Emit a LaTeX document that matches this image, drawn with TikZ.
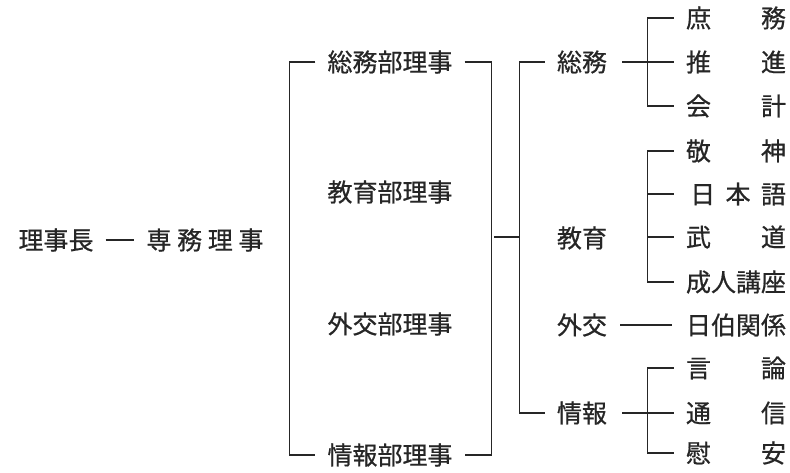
\documentclass[tikz,border=0pt]{standalone}
\usepackage{fontspec}
\newfontfamily\jpfont[FakeBold=0.6]{Noto Sans CJK JP}
\newcommand{\spreadfour}[1]{\makebox[4em][s]{#1}}
\begin{document}
\begin{tikzpicture}[x=1pt,y=-1pt,
  lbl/.style={font=\jpfont\fontsize{25}{26}\selectfont, inner sep=0pt, text=black!85},
  ln/.style={line width=1.2pt, black!85},
  dashln/.style={line width=1.8pt, black!85}]
\useasboundingbox[fill=white] (0,0) rectangle (790,472);

% top level
\node[lbl] (chair) at (56,240) {理事長};
\node[lbl] (senmu) at (205,240) {\makebox[117pt][s]{専\hfil 務\hfil 理\hfil 事}};
\draw[dashln, shorten <=12pt, shorten >=12pt] (chair.east) -- (senmu.west);

% directors
\node[lbl] (d1) at (390,62)  {総務部理事};
\node[lbl] (d2) at (390,192) {教育部理事};
\node[lbl] (d3) at (390,324) {外交部理事};
\node[lbl] (d4) at (390,455) {情報部理事};

% departments
\node[lbl] (b1) at (582,62)  {総務};
\node[lbl] (b2) at (582,238) {教育};
\node[lbl] (b3) at (582,325) {外交};
\node[lbl] (b4) at (582,413) {情報};

% items
\node[lbl] (s1) at (736,18)  {\spreadfour{庶\hfil 務}};
\node[lbl] (s2) at (736,62)  {\spreadfour{推\hfil 進}};
\node[lbl] (s3) at (736,106) {\spreadfour{会\hfil 計}};
\node[lbl] (k1) at (736,151) {\spreadfour{敬\hfil 神}};
\node[lbl] (k2) at (736,194) {\spreadfour{\,日\hfil 本\hfil 語}};
\node[lbl] (k3) at (736,237) {\spreadfour{武\hfil 道}};
\node[lbl] (k4) at (736,282) {\spreadfour{成人講座}};
\node[lbl] (g1) at (736,325) {\spreadfour{日伯関係}};
\node[lbl] (j1) at (736,368) {\spreadfour{言\hfil 論}};
\node[lbl] (j2) at (736,413) {\spreadfour{通\hfil 信}};
\node[lbl] (j3) at (736,453) {\spreadfour{慰\hfil 安}};

% brackets around directors
\draw[ln] ([xshift=-12pt]d1.west) -- ++(-26,0) |- ([xshift=-12pt]d4.west);
\draw[ln] ([xshift=12pt]d1.east) -- ++(27,0) |- ([xshift=12pt]d4.east);

% link to departments
\coordinate (m1) at (494,237);
\coordinate (m2) at (519,237);
\draw[ln] (m1) -- (m2);
\draw[ln] ([xshift=-12pt]b1.west) -- ++(-25,0) |- ([xshift=-12pt]b4.west);

% 総務
\draw[ln] ([xshift=15pt]b1.east) -- ([xshift=-12pt]s2.west);
\draw[ln] ([xshift=-12pt]s1.west) -- ++(-26,0) |- ([xshift=-12pt]s3.west);

% 教育
\draw[ln] ([xshift=-12pt]k1.west) -- ++(-26,0) |- ([xshift=-12pt]k4.west);
\draw[ln] ([xshift=-12pt]k2.west) -- ++(-26,0);
\draw[ln] ([xshift=-12pt]k3.west) -- ++(-26,0);

% 外交
\draw[ln] ([xshift=13pt]b3.east) -- ([xshift=-14pt]g1.west);

% 情報
\draw[ln] ([xshift=15pt]b4.east) -- ([xshift=-12pt]j2.west);
\draw[ln] ([xshift=-12pt]j1.west) -- ++(-26,0) |- ([xshift=-12pt]j3.west);
\end{tikzpicture}
\end{document}
